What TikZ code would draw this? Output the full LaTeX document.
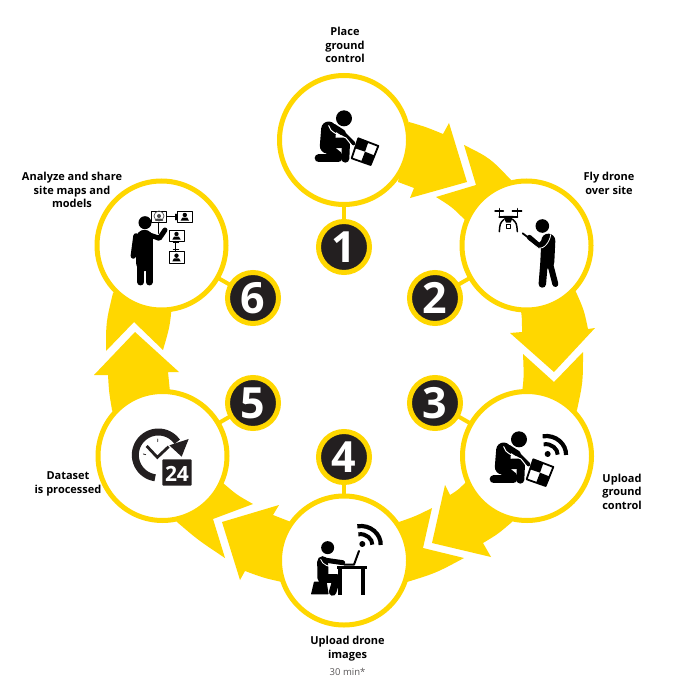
\documentclass[tikz,border=0pt]{standalone}
\usepackage{fontspec}
\setmainfont{Open Sans}
\definecolor{band}{HTML}{FFD700}
\definecolor{ink}{HTML}{231F20}
\tikzset{
  bigc/.style={circle,draw=band,fill=white,line width=5pt,minimum size=129pt,inner sep=0pt,outer sep=0pt},
  numc/.style={circle,draw=band,fill=ink,line width=5pt,minimum size=51pt,inner sep=0pt,outer sep=0pt,text=white,font=\fontsize{43}{43}\selectfont\bfseries},
  link/.style={draw=band,line width=4pt},
  lab/.style={align=center,inner sep=0pt,font=\fontsize{11}{13.5}\selectfont\bfseries,text=black},
  zoomed/.style={x=.3333pt,y=-.3333pt,line cap=round,line join=round},
}
\newcommand{\kneeler}{%
  \fill[black] (222,175) circle[radius=8pt];
  \draw[black,line width=15pt] (176,207) -- (172,258);
  \draw[black,line width=8pt] (146,295) -- (205,295);
  \draw[black,line width=10pt] (170,262) -- (203,288);
  \draw[black,line width=10.5pt] (175,250) -- (226,248);
  \draw[black,line width=8pt] (228,248) -- (226,296);
  \draw[black,line width=6pt] (190,200) -- (218,218);
  \draw[black,line width=4pt] (218,218) -- (250,250);
  \draw[white,line width=1pt] (176,197) .. controls (180,217) and (205,224) .. (228,234) -- (246,257);
  \draw[black,line width=1.8pt,fill=white] (265,235) -- (325,258) -- (302,315) -- (245,295) -- cycle;
  \fill[black] (265,235) -- (295,246.5) -- (285,275) -- (255,265) -- cycle;
  \fill[black] (302,315) -- (273.5,305) -- (285,275) -- (313.5,286.5) -- cycle;
}
\newcommand{\wifisign}[2]{%
  \fill[black] (#1,#2) circle[radius=3pt];
  \draw[black,line width=4pt,line cap=butt] (#1-12,#2-29) .. controls (#1+12,#2-33) and (#1+31,#2-14) .. (#1+30,#2+2);
  \draw[black,line width=4.2pt,line cap=butt] (#1-15,#2-53) .. controls (#1+25,#2-60) and (#1+57,#2-28) .. (#1+55,#2+3);
}
\newcommand{\screen}[2]{%
  \draw[black,line width=.8pt,fill=white] (#1,#2) rectangle ++(45,34);
  \fill[black] (#1+22.5,#2+12) circle[radius=2.2pt];
  \fill[black] (#1+10,#2+29) -- (#1+15,#2+20) -- (#1+30,#2+20) -- (#1+35,#2+29) -- cycle;
}
\begin{document}
\begin{tikzpicture}[x=1pt,y=-1pt]
\useasboundingbox (0,0) rectangle (700,700);
\fill[white] (0,0) rectangle (700,700);
% bands
\fill[band] (409,122) .. controls (426,127) .. (443,134) -- (449,123) -- (467,182) -- (410,198) -- (414,188) .. controls (406,184.5) .. (398,182) -- cycle;
\fill[band] (464,145) .. controls (490,158) .. (511,180) -- (576,292) .. controls (584,310) .. (588,329) -- (595,328) -- (554,372) -- (510,333) -- (522,332) .. controls (522,316) .. (519,300) -- (465,220) .. controls (452,207) .. (436,197) -- (476,185) -- cycle;
\fill[band] (583,352) .. controls (583,382) .. (577,410) -- (512,522) .. controls (498,534) .. (483,543) -- (491,557) -- (432,543) -- (445,485) -- (450,495) .. controls (458,490) .. (465,483) -- (521,400) .. controls (524,378) .. (523,354) -- (554,382) -- cycle;
\fill[band] (432,508) .. controls (416,516) .. (399,522) -- (291,522) .. controls (282,518) .. (273,515) -- (279,505) -- (222,522) -- (240,580) -- (245,571) .. controls (264,578) .. (282,582) -- (407,582) .. controls (436,573) .. (464,558) -- (423,548) -- cycle;
\fill[band] (253,504) .. controls (237,495) .. (223,483) -- (170,392) .. controls (169,382) .. (168,372) -- (179,372) -- (135,332) -- (94,375) -- (108,375) .. controls (109,392) .. (112,410) -- (177,522) .. controls (198,540) .. (225,558) -- (213,519) -- cycle;
\fill[band] (106,351) -- (134,322) -- (163,350) .. controls (170,326) .. (172,303) -- (140,270) -- (113,293) .. controls (106,322) .. (106,351) -- cycle;
% circles
\node[bigc] (c1) at (344,140) {};
\node[bigc] (c2) at (526.5,245.5) {};
\node[bigc] (c3) at (527,456) {};
\node[bigc] (c4) at (344,560.5) {};
\node[bigc] (c5) at (162.5,456) {};
\node[bigc] (c6) at (161.5,245.5) {};
\node[numc] (n1) at (344,247) {1};
\node[numc] (n2) at (435,298) {2};
\node[numc] (n3) at (435,403) {3};
\node[numc] (n4) at (344,457) {4};
\node[numc] (n5) at (253,403) {5};
\node[numc] (n6) at (253,298) {6};
\path[link] (n1) -- (c1);
\path[link] (n2) -- (c2);
\path[link] (n3) -- (c3);
\path[link] (n4) -- (c4);
\path[link] (n5) -- (c5);
\path[link] (n6) -- (c6);
% labels
\node[lab] (t1) at (345,45) {Place\\ground\\control};
\node[lab] (t2) at (609,183.5) {Fly drone\\over site};
\node[lab] (t3) at (622,491.5) {Upload\\ground\\control};
\node[lab] (t4) at (347.5,648.5) {Upload drone\\images};
\node[inner sep=0pt,font=\fontsize{9.5}{12}\selectfont,text=ink!75] (t4b) at (347.5,672) {30 min*};
\node[lab] (t5) at (68,484) {Dataset\\is processed};
\node[lab] (t6) at (72,190) {Analyze and share\\site maps and\\models};
% icon 1
\begin{scope}[shift={(270,60)},zoomed]
\kneeler
\end{scope}
% icon 3
\begin{scope}[shift={(445,381)},zoomed]
\kneeler
\end{scope}
\begin{scope}[shift={(400,380)},zoomed]
\wifisign{443}{222}
\end{scope}
% icon 2
\begin{scope}[shift={(440,160)},zoomed]
\fill[black] (307,198) circle[radius=6.8pt];
\draw[black,line width=14pt] (325,242) -- (322,305);
\draw[black,line width=7.5pt] (312,310) -- (307,372);
\draw[black,line width=6pt] (330,310) -- (346,372);
\draw[black,line width=5pt] (322,235) -- (298,258) -- (268,232);
\draw[black,line width=1.8pt] (248,220) -- (268,235);
\draw[white,line width=.8pt] (332,224) .. controls (330,245) and (312,268) .. (295,265) -- (270,246);
\draw[black,line width=1.5pt] (165,153) -- (190,153) (217,153) -- (245,153);
\draw[black,line width=1.5pt] (178,146) -- (178,170) (232,146) -- (232,170);
\draw[black,line width=2.2pt] (178,170) -- (232,170);
\fill[black] (190,168) -- (220,168) -- (212,188) -- (198,188) -- cycle;
\draw[black,line width=1.5pt] (192,178) .. controls (180,190) .. (178,215);
\draw[black,line width=1.5pt] (218,178) .. controls (230,190) .. (232,215);
\draw[black,line width=1pt,fill=white] (198,195) rectangle (212,206);
\end{scope}
% icon 4
\begin{scope}[shift={(200,470)},zoomed]
\fill[black] (383,233) circle[radius=6.5pt];
\draw[black,line width=11pt] (368,275) -- (369,325);
\draw[black,line width=8.5pt] (372,325) -- (410,325);
\draw[black,line width=7.5pt] (410,325) -- (398,366);
\draw[black,line width=5pt] (372,270) -- (428,278);
\draw[white,line width=.8pt] (362,268) .. controls (368,285) and (385,292) .. (412,290);
\fill[black,rounded corners=.5pt] (342,335) -- (380,335) -- (386,373) -- (333,373) -- cycle;
\fill[black] (410,288) rectangle (500,298);
\fill[black] (415,298) rectangle (427,374);
\fill[black] (482,298) rectangle (494,374);
\draw[black,line width=2pt] (432,284) -- (462,284) -- (477,243);
\wifisign{487}{222}
\end{scope}
% icon 5
\begin{scope}[shift={(80,320)},zoomed]
\draw[ink,line width=7pt,line cap=butt] plot[domain=98:325,samples=40] ({235+69*cos(\x)},{405+69*sin(\x)});
\fill[ink] (326,357) -- (305,410) -- (268,376) -- cycle;
\draw[ink,line width=2.8pt,line cap=butt,line join=miter] (200,378) -- (232,412) -- (266,380);
\draw[ink,line width=.8pt] (233,357) -- (233,365) (190,402) -- (197,404);
\fill[ink,rounded corners=1pt] (247,418) rectangle (335,497);
\node[inner sep=0pt,text=white,font=\fontsize{21}{21}\selectfont\bfseries] (day) at (291,461) {24};
\end{scope}
% icon 6
\begin{scope}[shift={(90,170)},zoomed]
\fill[black] (165,158) circle[radius=6.5pt];
\draw[black,line width=17pt] (164,205) -- (164,278);
\draw[black,line width=7pt] (152,280) -- (152,336) (178,280) -- (178,336);
\draw[black,line width=5.5pt] (138,198) -- (130,258);
\draw[black,line width=5pt] (170,192) -- (208,205) -- (225,180);
\draw[black,line width=1.5pt] (205,160) -- (205,190);
\draw[black,line width=.8pt,fill=white] (185,123) rectangle (230,157);
\draw[black!70,line width=.7pt] (207,138) circle[radius=5pt];
\fill[black!70] (207,138) circle[radius=2pt];
\fill[black!70] (195,153) -- (200,146) -- (214,146) -- (220,153) -- cycle;
\draw[black,line width=1pt] (232,140) -- (255,140);
\draw[black,line width=1.6pt] (258,133) -- (258,149);
\screen{262}{123}
\screen{237}{180}
\screen{237}{245}
\draw[black,line width=1pt] (258,214) -- (258,245);
\draw[black,line width=1pt] (250,219) -- (266,219) (250,240) -- (266,240);
\end{scope}
\end{tikzpicture}
\end{document}
